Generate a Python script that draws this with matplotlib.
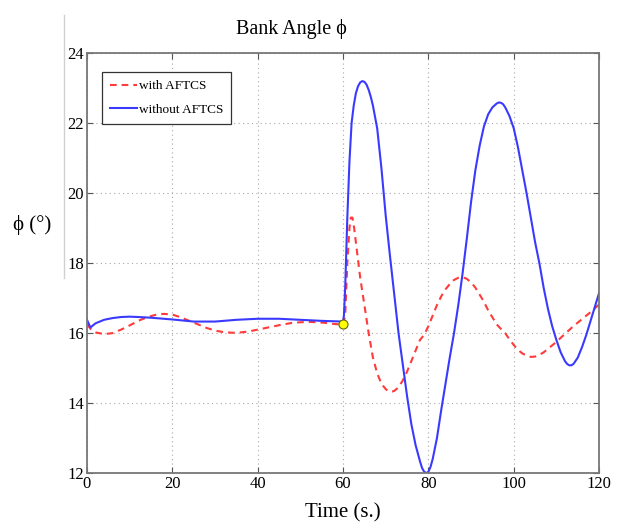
import numpy as np
import matplotlib
matplotlib.use('Agg')
import matplotlib.pyplot as plt
from matplotlib.lines import Line2D

plt.rcParams['font.family'] = ['Liberation Serif', 'DejaVu Serif']

# Bank angle without fault-tolerant control
t_without = [0, 0.8, 2, 4, 6, 8, 10, 12, 15, 20, 25, 30, 35, 40, 45, 50, 55, 60,
             60.2, 60.5, 61, 61.5, 62, 62.5, 63, 63.5, 64, 64.5, 65, 65.5, 66,
             66.5, 67, 68, 69, 70, 71, 72, 73, 74, 75, 76, 77, 78, 78.5, 79,
             79.5, 80, 80.5, 81, 82, 83, 84, 85, 86, 87, 88, 89, 90, 91, 92, 93,
             94, 95, 96, 96.5, 97, 97.5, 98, 99, 100, 101, 102, 103, 104, 105,
             106, 107, 108, 109, 110, 111, 112, 112.5, 113, 113.5, 114, 115, 116,
             117, 118, 119, 120]
phi_without = [16.38, 16.16, 16.28, 16.38, 16.43, 16.46, 16.47, 16.46, 16.44,
               16.39, 16.33, 16.33, 16.38, 16.41, 16.41, 16.38, 16.35, 16.33,
               16.5, 17.3, 19.3, 20.9, 22.0, 22.5, 22.85, 23.05, 23.16, 23.2,
               23.18, 23.1, 22.95, 22.75, 22.5, 21.85, 20.7, 19.35, 18.2, 17.1,
               16.0, 15.1, 14.2, 13.4, 12.8, 12.35, 12.15, 12.04, 12.0, 12.04,
               12.18, 12.4, 13.0, 13.8, 14.55, 15.3, 16.0, 16.8, 17.7, 18.7,
               19.75, 20.65, 21.35, 21.9, 22.25, 22.45, 22.56, 22.59, 22.58, 22.54,
               22.45, 22.2, 21.85, 21.3, 20.65, 20.0, 19.3, 18.6, 18.0, 17.3,
               16.7, 16.2, 15.8, 15.45, 15.2, 15.12, 15.08, 15.08, 15.12, 15.3,
               15.6, 15.95, 16.35, 16.75, 17.15]

# Bank angle with AFTCS
t_with = [0, 1, 2, 4, 6, 8, 10, 12, 14, 16, 18, 20, 22, 24, 26, 28, 30, 32, 34,
          36, 38, 40, 42, 44, 46, 48, 50, 52, 54, 56, 58, 60, 60.5, 61, 61.5,
          61.8, 62.2, 62.6, 63, 63.6, 64, 65, 66, 67, 68, 69, 70, 70.5, 71, 71.5,
          72, 73, 74, 75, 76, 77, 78, 79, 80, 81, 82, 83, 84, 85, 86, 87, 88,
          89, 90, 91, 92, 93, 94, 95, 96, 97, 98, 99, 100, 101, 102, 103, 104,
          105, 106, 107, 108, 110, 112, 114, 116, 118, 120]
phi_with = [16.25, 16.1, 16.02, 15.97, 16.0, 16.1, 16.22, 16.35, 16.45, 16.52,
            16.55, 16.53, 16.45, 16.35, 16.25, 16.15, 16.07, 16.03, 16.01, 16.02,
            16.05, 16.1, 16.15, 16.2, 16.25, 16.29, 16.31, 16.32, 16.31, 16.29,
            16.26, 16.24, 16.5, 18.0, 19.0, 19.3, 19.3, 19.0, 18.6, 18.0, 17.6,
            16.8, 16.0, 15.3, 14.85, 14.55, 14.4, 14.35, 14.33, 14.33, 14.35,
            14.45, 14.65, 14.9, 15.2, 15.5, 15.8, 15.95, 16.2, 16.5, 16.8, 17.05,
            17.25, 17.4, 17.52, 17.58, 17.6, 17.55, 17.45, 17.3, 17.1, 16.9,
            16.65, 16.45, 16.25, 16.12, 16.0, 15.82, 15.66, 15.52, 15.42, 15.36,
            15.32, 15.33, 15.38, 15.45, 15.55, 15.75, 15.98, 16.2, 16.4, 16.6,
            16.82]

fault_t = [60]
fault_phi = [16.25]

xticks = [0, 20, 40, 60, 80, 100, 120]
yticks = [12, 14, 16, 18, 20, 22, 24]

fig = plt.figure(figsize=(6.17, 5.31), dpi=100)
ax = fig.add_axes([0.141, 0.109, 0.830, 0.791])

ax.plot(t_with, phi_with, color='#ff3b3b', linestyle=(0, (3.2, 2.4)),
        linewidth=1.5, label='with AFTCS')
ax.plot(t_without, phi_without, color='#3a3aff', linewidth=1.5,
        label='without AFTCS')
ax.plot(fault_t, fault_phi, 'o', markersize=6.5, markerfacecolor='#ffff00',
        markeredgecolor='#666600', markeredgewidth=0.8, zorder=5)

ax.set_xlim(0, 120)
ax.set_ylim(12, 24)
ax.set_xticks(xticks)
ax.set_yticks(yticks)
ax.grid(True, linestyle=(0, (1, 3)), color='#a8a8a8', linewidth=0.8)
ax.tick_params(direction='in', top=True, right=True, length=4, width=0.8,
               color='#555555', labelsize=12, pad=2)
for s in ax.spines.values():
    s.set_color('#777777')
    s.set_linewidth(1.3)

ax.set_xlabel('Time (s.)', fontsize=15, labelpad=8)
ax.set_ylabel('ϕ (°)', fontsize=15, rotation=0, ha='center', va='center')
ax.yaxis.set_label_coords(-0.107, 0.59)
ax.text(0.40, 1.057, 'Bank Angle ϕ', transform=ax.transAxes, ha='center',
        va='center', fontsize=14.5)

leg = ax.legend(loc='upper left', bbox_to_anchor=(0.029, 0.955), fontsize=9.5,
                fancybox=False, framealpha=1, edgecolor='#333333',
                handlelength=2.1, handletextpad=0.1, borderpad=0.6,
                labelspacing=0.85, borderaxespad=0)
leg.get_frame().set_linewidth(0.9)

# faint vertical rule left of the axes
fig.add_artist(Line2D([64 / 617, 64 / 617], [1 - 15 / 531, 1 - 278 / 531],
                      transform=fig.transFigure, color='#d0d0d0', linewidth=1))

fig.savefig('out.png', dpi=100)
